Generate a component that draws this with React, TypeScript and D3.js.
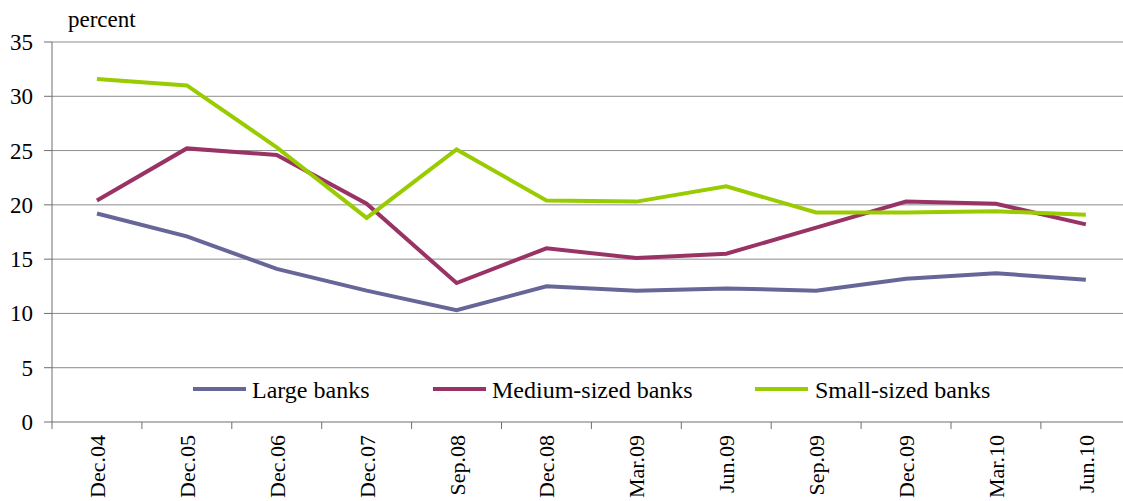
import React from "react";
import * as d3 from "d3";

const categories = ["Dec.04","Dec.05","Dec.06","Dec.07","Sep.08","Dec.08","Mar.09","Jun.09","Sep.09","Dec.09","Mar.10","Jun.10"];
const largeBanks = [19.2, 17.1, 14.1, 12.1, 10.3, 12.5, 12.1, 12.3, 12.1, 13.2, 13.7, 13.1];
const mediumBanks = [20.4, 25.2, 24.6, 20.1, 12.8, 16.0, 15.1, 15.5, 17.9, 20.3, 20.1, 18.2];
const smallBanks = [31.6, 31.0, 25.3, 18.8, 25.1, 20.4, 20.3, 21.7, 19.3, 19.3, 19.4, 19.1];
const yTicks = [0, 5, 10, 15, 20, 25, 30, 35];
const seriesNames = ["Large banks", "Medium-sized banks", "Small-sized banks"];

const W = 1123, H = 501;
const FONT = "Liberation Serif";

export default function App() {
  const left = 52, right = 52 + 89.9 * 12, top = 42, bottom = 422;
  const x = d3.scaleBand<string>().domain(categories).range([left, right]);
  const y = d3.scaleLinear().domain([0, 35]).range([bottom, top]);
  const series = [
    { name: seriesNames[0], values: largeBanks, color: "#666699" },
    { name: seriesNames[1], values: mediumBanks, color: "#993366" },
    { name: seriesNames[2], values: smallBanks, color: "#99CC00" },
  ];
  const line = d3.line<number>()
    .x((_, i) => (x(categories[i]) as number) + x.bandwidth() / 2)
    .y((d) => y(d));
  const legendPos = [
    { lx: 193, tx: 252 },
    { lx: 433, tx: 492 },
    { lx: 755, tx: 815 },
  ];
  const legendY = 389;
  return (
    <svg width={W} height={H} style={{ position: "absolute", left: 0, top: 0, background: "#fff" }}>
      <rect x={0} y={0} width={W} height={H} fill="#fff" />
      {yTicks.filter((t) => t > 0).map((t) => (
        <line key={"g" + t} x1={left} x2={W} y1={y(t)} y2={y(t)} stroke="#8c8c8c" strokeWidth={1} />
      ))}
      {yTicks.map((t) => (
        <g key={"y" + t}>
          <line x1={44} x2={left} y1={y(t)} y2={y(t)} stroke="#6e6e6e" strokeWidth={1} />
          <text x={33} y={y(t)} dy="0.35em" textAnchor="end" fontFamily={FONT} fontSize={23} fill="#000">{t}</text>
        </g>
      ))}
      <line x1={left} x2={left} y1={top} y2={bottom} stroke="#6e6e6e" strokeWidth={1} />
      <line x1={left} x2={W} y1={bottom} y2={bottom} stroke="#6e6e6e" strokeWidth={1} />
      {categories.map((c, i) => (
        <line key={"xt" + i} x1={(x(c) as number)} x2={(x(c) as number)} y1={bottom} y2={bottom + 7} stroke="#6e6e6e" strokeWidth={1} />
      ))}
      {categories.map((c) => {
        const cx = (x(c) as number) + x.bandwidth() / 2 + 8;
        const cy = 435;
        return (
          <text key={"xl" + c} x={cx} y={cy} transform={`rotate(-90 ${cx} ${cy})`} textAnchor="end" fontFamily={FONT} fontSize={22} fill="#000">{c}</text>
        );
      })}
      <text x={68} y={27} fontFamily={FONT} fontSize={23} fill="#000">percent</text>
      {series.map((s) => (
        <path key={s.name} d={line(s.values) as string} fill="none" stroke={s.color} strokeWidth={4} strokeLinejoin="miter" />
      ))}
      {series.map((s, i) => (
        <g key={"lg" + i}>
          <line x1={legendPos[i].lx} x2={legendPos[i].lx + 53} y1={legendY} y2={legendY} stroke={s.color} strokeWidth={4} />
          <text x={legendPos[i].tx} y={legendY + 9} fontFamily={FONT} fontSize={24} fill="#000">{s.name}</text>
        </g>
      ))}
    </svg>
  );
}
